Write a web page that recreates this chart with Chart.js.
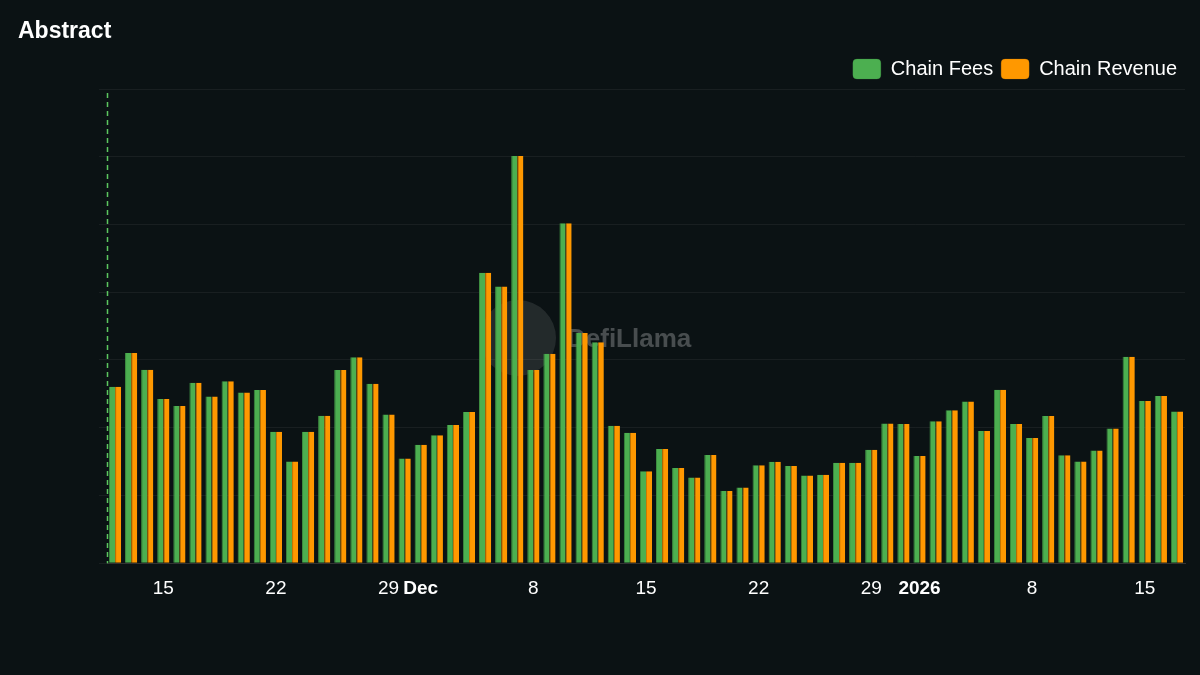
<!DOCTYPE html>
<html><head><meta charset="utf-8">
<script src="https://cdn.jsdelivr.net/npm/chart.js@4"></script>
<style>html,body{margin:0;padding:0;background:#0b1214;}#w{position:relative;width:1200px;height:675px;}</style>
</head><body><div id="w"><canvas id="c" width="1200" height="675"></canvas></div>
<script>
const dates = ["2025-11-12","2025-11-13","2025-11-14","2025-11-15","2025-11-16","2025-11-17","2025-11-18","2025-11-19","2025-11-20","2025-11-21","2025-11-22","2025-11-23","2025-11-24","2025-11-25","2025-11-26","2025-11-27","2025-11-28","2025-11-29","2025-11-30",
"2025-12-01","2025-12-02","2025-12-03","2025-12-04","2025-12-05","2025-12-06","2025-12-07","2025-12-08","2025-12-09","2025-12-10","2025-12-11","2025-12-12","2025-12-13","2025-12-14","2025-12-15","2025-12-16","2025-12-17","2025-12-18","2025-12-19","2025-12-20","2025-12-21","2025-12-22","2025-12-23","2025-12-24","2025-12-25","2025-12-26","2025-12-27","2025-12-28","2025-12-29","2025-12-30","2025-12-31",
"2026-01-01","2026-01-02","2026-01-03","2026-01-04","2026-01-05","2026-01-06","2026-01-07","2026-01-08","2026-01-09","2026-01-10","2026-01-11","2026-01-12","2026-01-13","2026-01-14","2026-01-15","2026-01-16","2026-01-17"];
const chainFees = [7810,9310,8570,7270,6960,7990,7380,8060,7560,7670,5820,4500,5820,6530,8560,9120,7950,6590,4640,
5250,5670,6120,6700,12860,12250,18030,8560,9280,15060,10190,9780,6090,5780,4070,5060,4220,3800,4790,3200,3350,4340,4490,4300,3880,3920,4450,4450,5020,6190,6160,
4750,6290,6770,7160,5850,7680,6160,5550,6520,4780,4500,4990,5960,9140,7180,7400,6720];
const chainRevenue = [7810,9310,8570,7270,6960,7990,7380,8060,7560,7670,5820,4500,5820,6530,8560,9120,7950,6590,4640,
5250,5670,6120,6700,12860,12250,18030,8560,9280,15060,10190,9780,6090,5780,4070,5060,4220,3800,4790,3200,3350,4340,4490,4300,3880,3920,4450,4450,5020,6190,6160,
4750,6290,6770,7160,5850,7680,6160,5550,6520,4780,4500,4990,5960,9140,7180,7400,6720];
const tickLabels = {"2025-11-15":"15","2025-11-22":"22","2025-11-29":"29","2025-12-01":"Dec","2025-12-08":"8","2025-12-15":"15","2025-12-22":"22","2025-12-29":"29","2026-01-01":"2026","2026-01-08":"8","2026-01-15":"15"};
const boldTicks = ["2025-12-01","2026-01-01"];
const yTicks = [0,3000,6000,9000,12000,15000,18000,21000];
const FONT = "'Helvetica Neue', Arial, 'Liberation Sans', sans-serif";

const extras = {
  id:'extras',
  beforeDatasetsDraw(ch){
    const c=ch.ctx;
    c.save();
    c.font="bold 23px "+FONT;c.fillStyle="#fff";c.textAlign="left";c.textBaseline="middle";
    c.fillText("Abstract",18,32);
    c.beginPath();c.arc(518,338,38,0,Math.PI*2);c.fillStyle="rgba(255,255,255,0.1)";c.fill();
    c.font="bold 26px "+FONT;c.fillStyle="rgba(255,255,255,0.25)";c.fillText("DefiLlama",567,340);
    c.restore();
  },
  afterDatasetsDraw(ch){
    const c=ch.ctx,a=ch.chartArea;
    c.save();c.strokeStyle="#5cc75f";c.lineWidth=1.5;c.setLineDash([5,4]);
    c.beginPath();c.moveTo(a.left+0.5,a.top+4);c.lineTo(a.left+0.5,a.bottom);c.stroke();c.restore();
  }
};

new Chart(document.getElementById('c'),{
  type:'bar',
  data:{labels:dates,datasets:[
    {label:'Chain Fees',data:chainFees,backgroundColor:'#4caf50',borderColor:'#3d8c40',borderWidth:{left:1,right:0,top:0,bottom:0}},
    {label:'Chain Revenue',data:chainRevenue,backgroundColor:'#ff9800',borderColor:'#cc7a00',borderWidth:{left:1,right:0,top:0,bottom:0}}
  ]},
  options:{
    responsive:false,animation:false,
    layout:{padding:{left:18,right:15,top:14,bottom:8}},
    datasets:{bar:{categoryPercentage:0.76,barPercentage:1}},
    plugins:{
      legend:{position:'top',align:'end',
        labels:{color:'#fff',font:{family:FONT,size:20},boxWidth:28,boxHeight:20,useBorderRadius:true,borderRadius:4,padding:8},
        afterFit(l){l.height=62;}},
      tooltip:{enabled:false}
    },
    scales:{
      x:{grid:{display:false},border:{color:'#333'},ticks:{color:'#fff',autoSkip:false,maxRotation:0,padding:6,
        callback:(v,i)=>tickLabels[dates[i]]||'',
        font:(ctx)=>({family:FONT,size:19,weight:boldTicks.includes(dates[ctx.index])?'bold':'normal'})}},
      y:{min:0,max:21000,afterBuildTicks:(s)=>{s.ticks=yTicks.map(v=>({value:v}));},
        afterFit(s){s.width=89;},
        grid:{color:'rgba(255,255,255,0.06)'},border:{display:false},
        ticks:{color:'#fff',padding:89,align:'start',crossAlign:'near',mirror:false,font:{family:FONT,size:19},callback:v=>'$'+v.toLocaleString('en-US')}}
    }
  },
  plugins:[extras]
});
</script></body></html>
